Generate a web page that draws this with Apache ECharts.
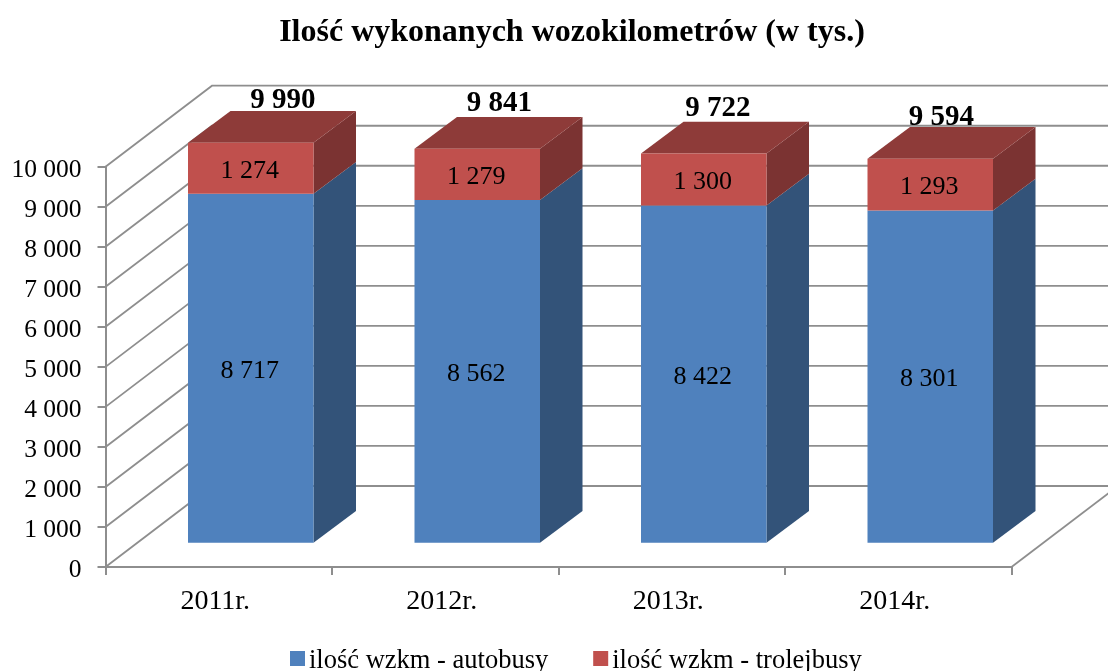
<!DOCTYPE html>
<html>
<head>
<meta charset="utf-8">
<style>html,body{margin:0;padding:0;background:#fff}#c{width:1108px;height:671px}</style>
<script src="https://cdn.jsdelivr.net/npm/echarts@6/dist/echarts.min.js"></script>
</head>
<body>
<div id="c"></div>
<script>
const titleText = 'Ilość wykonanych wozokilometrów (w tys.)';
const categories = ['2011r.', '2012r.', '2013r.', '2014r.'];
const autobusy = [8717, 8562, 8422, 8301];
const trolejbusy = [1274, 1279, 1300, 1293];
const totals = [9990, 9841, 9722, 9594];
const seriesNames = ['ilość wzkm - autobusy', 'ilość wzkm - trolejbusy'];
const yTicks = [0, 1000, 2000, 3000, 4000, 5000, 6000, 7000, 8000, 9000, 10000];

// layout
const FONT = '"Liberation Serif","Times New Roman",serif';
const G = {left: 105.5, right: 96.5, top: 166.7, bottom: 104};
const WALL = {dx: 106.5, dy: 81};
const BAR_OFFSET = {dx: 32, dy: 24.3};
const BAR_DEPTH = {dx: 42.5, dy: 31.7};
const BAR_W = 125.5;
const GREY = '#8e8e8e';
const COL = {blue: '#4f81bd', blueSide: '#335379', red: '#c0504d', redSide: '#7b3332', redTop: '#8e3b39'};
const totalNudgeX = [32, 22, 14, 11];
const totalNudgeY = [42, 45, 45, 41];

const fmt = v => String(v).replace(/\B(?=(\d{3})+$)/g, ' ');

// side faces: [category, from, to, segment]
const sideData = [];
categories.forEach((c, i) => {
  sideData.push([i, 0, autobusy[i], 0]);
  sideData.push([i, autobusy[i], autobusy[i] + trolejbusy[i], 1]);
});

const chart = echarts.init(document.getElementById('c'), null, {renderer: 'canvas'});
chart.setOption({
  animation: false,
  backgroundColor: '#fff',
  title: {
    text: titleText, left: 567, top: 12, textAlign: 'center',
    textStyle: {fontFamily: FONT, fontWeight: 'bold', fontSize: 32, color: '#000'}
  },
  legend: {
    data: seriesNames, left: 290, top: 648, padding: 0, itemWidth: 15, itemHeight: 21, itemGap: 45,
    icon: 'path://M0,0H15V15H0Z M0,21L15,21Z',
    textStyle: {fontFamily: FONT, fontSize: 26.5, color: '#000', padding: [0, 0, 0, -1]}
  },
  grid: [
    Object.assign({}, G),
    {left: G.left + BAR_OFFSET.dx, right: G.right - BAR_OFFSET.dx, top: G.top - BAR_OFFSET.dy, bottom: G.bottom + BAR_OFFSET.dy}
  ],
  xAxis: [
    {
      type: 'category', data: categories, gridIndex: 0,
      axisLine: {lineStyle: {color: GREY, width: 2}},
      axisTick: {show: true, length: 8, alignWithLabel: false, lineStyle: {color: GREY, width: 2}},
      axisLabel: {fontFamily: FONT, fontSize: 28, color: '#000', margin: 21, padding: [0, 7, 0, 0]}
    },
    {type: 'category', data: categories, gridIndex: 1, show: false}
  ],
  yAxis: [
    {
      type: 'value', min: 0, max: 10000, interval: 1000, gridIndex: 0,
      splitLine: {show: false},
      axisLine: {show: true, lineStyle: {color: GREY, width: 2}},
      axisTick: {show: true, length: 8, lineStyle: {color: GREY, width: 2}},
      axisLabel: {fontFamily: FONT, fontSize: 25.5, color: '#000', margin: 24, verticalAlign: 'top', lineHeight: 7, formatter: fmt}
    },
    {type: 'value', min: 0, max: 10000, interval: 1000, gridIndex: 1, show: false}
  ],
  series: [
    {
      type: 'custom', name: 'walls', xAxisIndex: 0, yAxisIndex: 0, z: 1, silent: true, clip: false,
      data: yTicks.map(v => [0, v]),
      renderItem(params, api) {
        const p = api.coord([0, api.value(1)]);
        const w = api.size([1, 0])[0];
        const x0 = p[0] - w / 2, x1 = x0 + w * categories.length;
        return {
          type: 'polyline',
          shape: {points: [[x0, p[1]], [x0 + WALL.dx, p[1] - WALL.dy], [x1 + WALL.dx, p[1] - WALL.dy]]},
          style: {stroke: GREY, lineWidth: 1.8, fill: null}
        };
      }
    },
    {
      type: 'custom', name: 'floor', xAxisIndex: 0, yAxisIndex: 0, z: 1, silent: true, clip: false,
      data: [[categories.length - 1, 0]],
      renderItem(params, api) {
        const p = api.coord([api.value(0), api.value(1)]);
        const x = p[0] + api.size([1, 0])[0] / 2;
        return {
          type: 'line',
          shape: {x1: x, y1: p[1], x2: x + WALL.dx, y2: p[1] - WALL.dy},
          style: {stroke: GREY, lineWidth: 1.8}
        };
      }
    },
    {
      type: 'custom', name: 'sides', xAxisIndex: 1, yAxisIndex: 1, z: 2, silent: true, clip: false,
      data: sideData,
      renderItem(params, api) {
        const a = api.coord([api.value(0), api.value(1)]);
        const b = api.coord([api.value(0), api.value(2)]);
        const r = a[0] + BAR_W / 2, l = a[0] - BAR_W / 2;
        const d = BAR_DEPTH;
        const kids = [{
          type: 'polygon',
          shape: {points: [[r, a[1]], [r + d.dx, a[1] - d.dy], [r + d.dx, b[1] - d.dy], [r, b[1]]]},
          style: {fill: api.value(3) ? COL.redSide : COL.blueSide}
        }];
        if (api.value(3)) {
          kids.push({
            type: 'polygon',
            shape: {points: [[l, b[1]], [l + d.dx, b[1] - d.dy], [r + d.dx, b[1] - d.dy], [r, b[1]]]},
            style: {fill: COL.redTop}
          });
        }
        return {type: 'group', children: kids};
      }
    },
    {
      type: 'bar', name: seriesNames[0], stack: 's', xAxisIndex: 1, yAxisIndex: 1, barWidth: BAR_W, z: 3,
      data: autobusy, itemStyle: {color: COL.blue},
      label: {show: true, position: 'inside', offset: [-1, 3], fontFamily: FONT, fontSize: 26, color: '#000', formatter: p => fmt(p.value)}
    },
    {
      type: 'bar', name: seriesNames[1], stack: 's', xAxisIndex: 1, yAxisIndex: 1, barWidth: BAR_W, z: 3,
      data: trolejbusy, itemStyle: {color: COL.red},
      label: {show: true, position: 'inside', offset: [-1, 3], fontFamily: FONT, fontSize: 26, color: '#000', formatter: p => fmt(p.value)}
    },
    {
      type: 'custom', name: 'totals', xAxisIndex: 1, yAxisIndex: 1, z: 5, silent: true, clip: false,
      data: totals.map((t, i) => [i, t]),
      renderItem(params, api) {
        const i = api.value(0);
        const p = api.coord([i, api.value(1)]);
        return {
          type: 'text', z2: 10,
          style: {
            x: p[0] + totalNudgeX[i], y: p[1] - totalNudgeY[i],
            text: fmt(api.value(1)), align: 'center', verticalAlign: 'middle',
            font: 'bold 29px ' + FONT, fill: '#000'
          }
        };
      }
    }
  ]
});
</script>
</body>
</html>
